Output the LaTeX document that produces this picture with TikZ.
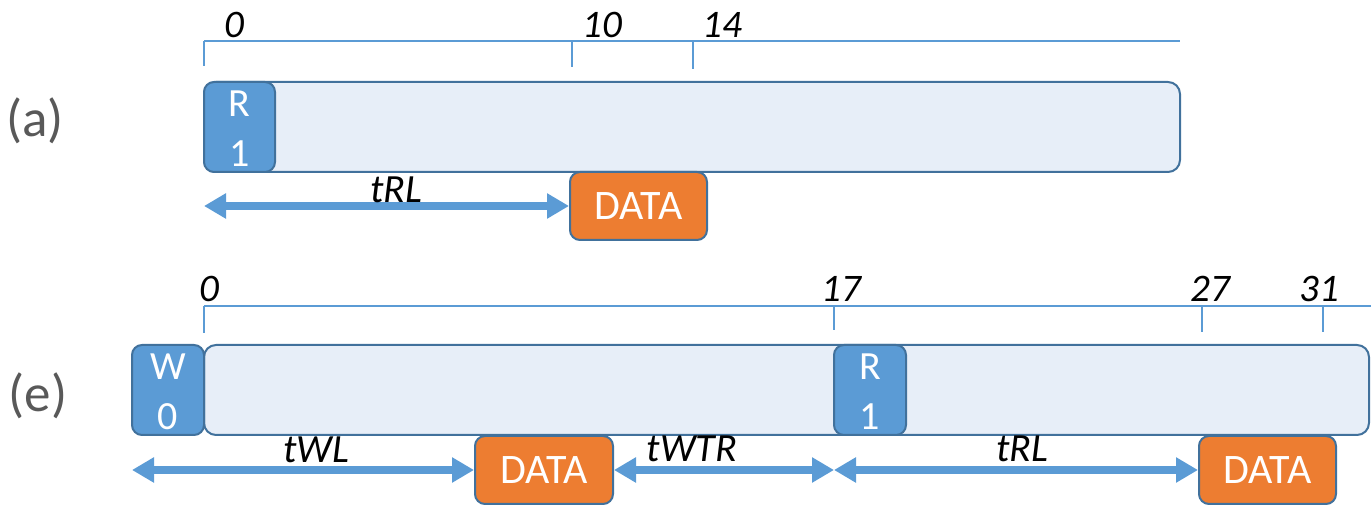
\documentclass[tikz,border=0pt]{standalone}
\usepackage{fontspec}
\setmainfont{Carlito}
\usetikzlibrary{arrows.meta}
\definecolor{barfill}{RGB}{231,238,248}
\definecolor{edge}{RGB}{65,113,156}
\definecolor{cmdblue}{RGB}{91,155,213}
\definecolor{dataorange}{RGB}{237,125,49}
\definecolor{labelgray}{RGB}{89,89,89}
\begin{document}
\begin{tikzpicture}[x=0.5pt,y=-0.5pt,
  bar/.style={draw=edge, fill=barfill, line width=1pt, rounded corners=6pt,
    inner sep=0pt, minimum height=45pt},
  cmd/.style={draw=edge, fill=cmdblue, line width=1pt, rounded corners=5pt,
    inner sep=0pt, minimum height=45pt, minimum width=36pt, text=white,
    align=center, font=\fontsize{20}{25}\selectfont},
  data/.style={draw=edge, fill=dataorange, line width=1pt, rounded corners=5pt,
    inner sep=0pt, minimum height=34pt, text=white,
    font=\fontsize{21}{25}\selectfont},
  ruler/.style={draw=cmdblue, line width=0.7pt},
  tickmark/.style={font=\fontsize{19.5}{21}\selectfont\itshape, anchor=base west,
    inner sep=0pt},
  span/.style={draw=cmdblue, line width=3.7pt,
    {Triangle[length=11pt,width=12pt]}-{Triangle[length=11pt,width=12pt]}},
  spanlabel/.style={font=\fontsize{20}{22}\selectfont\itshape, anchor=base,
    inner sep=0pt},
  rowlabel/.style={font=\fontsize{26.5}{28}\selectfont, text=labelgray,
    inner sep=0pt}
]
\useasboundingbox (0,0) rectangle (1371,512);
% strut that sets the first line of a command box lower
\newcommand\cmdstrut{\rule{0pt}{15pt}}

% ---------- row (a): single read ----------
\node[rowlabel] (la) at (35,121) {(a)};

% time ruler
\coordinate (a0) at (204,41);
\coordinate (aEnd) at (1180,41);
\coordinate (a0b) at (204,66);
\coordinate (a10) at (572,41);
\coordinate (a10b) at (572,67);
\coordinate (a14) at (693,41);
\coordinate (a14b) at (693,69);
\draw[ruler] (a0) -- (aEnd);
\draw[ruler] (a0) -- (a0b);
\draw[ruler] (a10) -- (a10b);
\draw[ruler] (a14) -- (a14b);
\node[tickmark] (na0) at (224,38) {0};
\node[tickmark] (na10) at (582,38) {10};
\node[tickmark] (na14) at (702,38) {14};

% command bar
\node[bar, minimum width=488pt] (barA) at (692,127) {};
\node[cmd, minimum width=35.5pt] (rA) at (239.5,127) {\cmdstrut R\\1};
\node[data, minimum width=68.5pt] (dA) at (638.5,206) {DATA};

% read latency
\coordinate (aStart) at (204,206);
\draw[span] (aStart) -- (dA.west);
\node[spanlabel] (tA) at (396,203) {tRL};

% ---------- row (e): write followed by read ----------
\node[rowlabel] (le) at (38,396) {(e)};

% time ruler
\coordinate (e0) at (204,306);
\coordinate (eEnd) at (1371,306);
\coordinate (e0b) at (204,333);
\coordinate (e17) at (834,306);
\coordinate (e17b) at (834,330);
\coordinate (e27) at (1202,306);
\coordinate (e27b) at (1202,332);
\coordinate (e31) at (1323,306);
\coordinate (e31b) at (1323,332);
\draw[ruler] (e0) -- (eEnd);
\draw[ruler] (e0) -- (e0b);
\draw[ruler] (e17) -- (e17b);
\draw[ruler] (e27) -- (e27b);
\draw[ruler] (e31) -- (e31b);
\node[tickmark] (ne0) at (199,302) {0};
\node[tickmark] (ne17) at (821,302) {17};
\node[tickmark] (ne27) at (1190,302) {27};
\node[tickmark] (ne31) at (1299,302) {31};

% command bar
\node[bar, minimum width=582.5pt] (barE) at (786.5,390) {};
\node[cmd] (wE) at (168,390) {\cmdstrut W\\0};
\node[cmd] (rE) at (870,390) {\cmdstrut R\\1};
\node[data, minimum width=69pt] (dE1) at (544,470) {DATA};
\node[data, minimum width=68.5pt] (dE2) at (1267.5,470) {DATA};

% latencies
\coordinate (eStart) at (132,470);
\coordinate (eMid) at (834,470);
\draw[span] (eStart) -- (dE1.west);
\draw[span] (dE1.east) -- (eMid);
\draw[span] (eMid) -- (dE2.west);
\node[spanlabel] (tE1) at (316,463) {tWL};
\node[spanlabel] (tE2) at (692,462) {tWTR};
\node[spanlabel] (tE3) at (1022,462) {tRL};
\end{tikzpicture}
\end{document}
